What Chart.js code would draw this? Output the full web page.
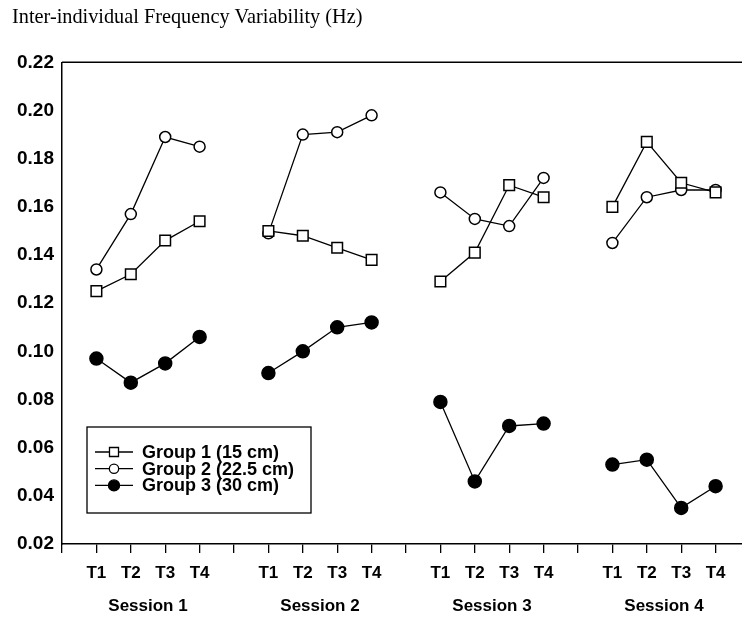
<!DOCTYPE html>
<html>
<head>
<meta charset="utf-8">
<title>Inter-individual Frequency Variability</title>
<script src="https://cdn.jsdelivr.net/npm/chart.js@4.4.0/dist/chart.umd.min.js"></script>
<style>
    html, body { margin: 0; padding: 0; background: #fff; overflow: hidden; }
    #chart { display: block; }
</style>
</head>
<body>
<canvas id="chart" width="760" height="617"></canvas>
<script>
// Sessions and time points on the x axis
const sessions = ['Session 1', 'Session 2', 'Session 3', 'Session 4'];
const timePoints = ['T1', 'T2', 'T3', 'T4'];

// Values, T1..T4 for each session in turn
const group1 = [0.125, 0.132, 0.146, 0.154,  0.150, 0.148, 0.143, 0.138,  0.129, 0.141, 0.169, 0.164,  0.160, 0.187, 0.170, 0.166];
const group2 = [0.134, 0.157, 0.189, 0.185,  0.149, 0.190, 0.191, 0.198,  0.166, 0.155, 0.152, 0.172,  0.145, 0.164, 0.167, 0.167];
const group3 = [0.097, 0.087, 0.095, 0.106,  0.091, 0.100, 0.110, 0.112,  0.079, 0.046, 0.069, 0.070,  0.053, 0.055, 0.035, 0.044];

const seriesNames = ['Group 1 (15 cm)', 'Group 2 (22.5 cm)', 'Group 3 (30 cm)'];

// Category slots: an empty slot before, between and after the sessions
const labels = [''];
sessions.forEach(function() {
    timePoints.forEach(t => labels.push(t));
    labels.push('');
});

// Put a null into every empty slot so the lines break between sessions
function toSlots(values) {
    const out = [null];
    for (let s = 0; s < sessions.length; s++) {
        for (let t = 0; t < timePoints.length; t++) {
            out.push(values[s * timePoints.length + t]);
        }
        out.push(null);
    }
    return out;
}

const tickFont = { family: '"Liberation Sans", Arial, sans-serif', size: 17, weight: 'bold' };

// Boxed legend in the lower left of the plot, with a line through each marker
const boxLegend = {
    id: 'boxLegend',
    afterDatasetsDraw(chart) {
        const { ctx, chartArea } = chart;
        const x = chartArea.left + 25;
        const y = chartArea.bottom - 117;
        ctx.save();
        ctx.strokeStyle = '#000';
        ctx.lineWidth = 1.3;
        ctx.strokeRect(x, y, 224, 86);
        chart.data.datasets.forEach(function(ds, i) {
            const rowY = y + 25 + i * 16.7;
            ctx.strokeStyle = '#000';
            ctx.lineWidth = 1.3;
            ctx.beginPath();
            ctx.moveTo(x + 8, rowY);
            ctx.lineTo(x + 46, rowY);
            ctx.stroke();
            ctx.fillStyle = ds.pointBackgroundColor;
            ctx.strokeStyle = ds.pointBorderColor;
            Chart.helpers.drawPoint(ctx, {
                pointStyle: ds.pointStyle,
                rotation: 0,
                radius: ds.pointRadius * 0.85,
                borderWidth: ds.pointBorderWidth
            }, x + 27, rowY);
            ctx.fillStyle = '#000';
            ctx.font = 'bold 18px "Liberation Sans", Arial, sans-serif';
            ctx.textBaseline = 'middle';
            ctx.textAlign = 'left';
            ctx.fillText(ds.label, x + 55, rowY + 1);
        });
        ctx.restore();
    }
};

// Top and right edges of the plot frame
const plotFrame = {
    id: 'plotFrame',
    beforeDatasetsDraw(chart) {
        const { ctx, chartArea } = chart;
        ctx.save();
        ctx.strokeStyle = '#000';
        ctx.lineWidth = 1.5;
        ctx.beginPath();
        ctx.moveTo(chartArea.left, chartArea.top);
        ctx.lineTo(chartArea.right, chartArea.top);
        ctx.lineTo(chartArea.right, chartArea.bottom);
        ctx.stroke();
        ctx.restore();
    }
};

function makeDataset(label, values, style, radius, fill) {
    return {
        label: label,
        data: toSlots(values),
        borderColor: '#000',
        borderWidth: 1.3,
        tension: 0,
        spanGaps: false,
        pointStyle: style,
        pointRadius: radius,
        pointHoverRadius: radius,
        pointBackgroundColor: fill,
        pointBorderColor: '#000',
        pointBorderWidth: 1.5
    };
}

const ctx = document.getElementById('chart').getContext('2d');
new Chart(ctx, {
    type: 'line',
    data: {
        labels: labels,
        datasets: [
            makeDataset(seriesNames[0], group1, 'rect', 7.5, '#fff'),
            makeDataset(seriesNames[1], group2, 'circle', 5.5, '#fff'),
            makeDataset(seriesNames[2], group3, 'circle', 6.5, '#000')
        ]
    },
    options: {
        responsive: false,
        animation: false,
        layout: { padding: { left: 12, right: 10, top: 0, bottom: 0 } },
        plugins: {
            legend: { display: false },
            tooltip: { enabled: false },
            title: {
                display: true,
                text: 'Inter-individual Frequency Variability (Hz)',
                align: 'start',
                color: '#000',
                font: { family: '"Liberation Serif", "Times New Roman", serif', size: 20.3, weight: 'normal' },
                padding: { top: 5, bottom: 33 }
            }
        },
        scales: {
            x: {
                type: 'category',
                offset: false,
                afterFit: s => { s.height = 44; },
                grid: { display: true, drawOnChartArea: false, drawTicks: true, tickLength: 9, color: '#000', lineWidth: 1.3 },
                border: { display: true, color: '#000', width: 1.5 },
                ticks: { autoSkip: false, maxRotation: 0, padding: 10, color: '#000', font: tickFont }
            },
            x2: {
                type: 'linear',
                position: 'bottom',
                weight: 1,
                min: 0,
                max: labels.length - 1,
                afterFit: s => { s.height = 29; },
                afterBuildTicks: s => {
                    s.ticks = sessions.map((name, i) => ({ value: i * 5 + 2.5 }));
                },
                grid: { display: false, drawTicks: false },
                border: { display: false },
                ticks: {
                    padding: 8,
                    color: '#000',
                    font: tickFont,
                    callback: (value, index) => sessions[index]
                }
            },
            y: {
                min: 0.02,
                max: 0.22,
                afterFit: s => { s.width = 50; },
                grid: { display: false, drawTicks: false },
                border: { display: true, color: '#000', width: 1.5 },
                ticks: {
                    stepSize: 0.02,
                    padding: 8,
                    color: '#000',
                    font: { family: '"Liberation Sans", Arial, sans-serif', size: 19, weight: 'bold' },
                    callback: v => v.toFixed(2)
                }
            }
        }
    },
    plugins: [plotFrame, boxLegend]
});
</script>
</body>
</html>
